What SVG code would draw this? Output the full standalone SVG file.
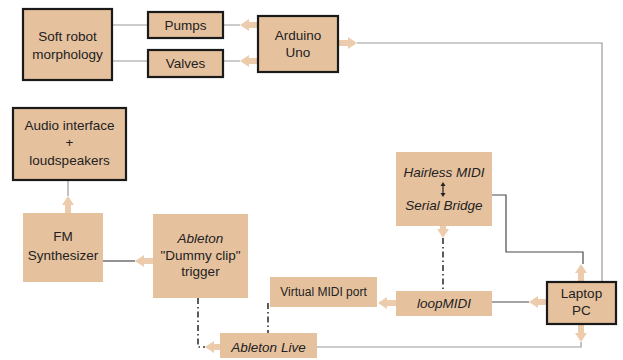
<svg xmlns="http://www.w3.org/2000/svg" xmlns:xlink="http://www.w3.org/1999/xlink" width="623" height="360" viewBox="0 0 623 360">
<style>
.box{fill:#e6c19e}
.bd{stroke:#1a1a1a;stroke-width:2.2}
.t{font-family:"Liberation Sans",Arial,sans-serif;font-size:13.5px;fill:#222;text-anchor:middle}
.i{font-style:italic}
.s{font-size:12px}
.ln{fill:none;stroke:#9a9a9a;stroke-width:1.2}
.dk{fill:none;stroke:#4a4a4a;stroke-width:1.2}
.dd{fill:none;stroke:#333;stroke-width:1.6;stroke-dasharray:6 3 1.5 3}
.fa{fill:#ecccad}
</style>
<defs>
<path id="fat" d="M0,0 L-9,-6 L-9,-3 L-19,-3 L-19,3 L-9,3 L-9,6 Z"/>
</defs>
<rect width="623" height="360" fill="#fff"/>
<g id="connectors">
<path class="ln" d="M112,25 H148 M112,61 H148 M223,25 H240 M223,61 H240"/>
<path class="ln" d="M357,43 H602 V282"/>
<path class="ln" d="M68,180 V196"/>
<path class="dk" d="M103,261 H135"/>
<path class="dk" d="M492,195 H506 V252 H583 V264"/>
<path class="dk" d="M492,302 H529"/>
<path class="ln" d="M317,347 H581 V342"/>
<path class="dd" d="M443,238 V291"/>
<path class="dd" d="M198,298 V347 H205"/>
<path class="dd" d="M268,303 V333"/>
<use class="fa" xlink:href="#fat" transform="translate(240,25) rotate(180)"/>
<use class="fa" xlink:href="#fat" transform="translate(240,61) rotate(180)"/>
<use class="fa" xlink:href="#fat" transform="translate(357,43)"/>
<use class="fa" xlink:href="#fat" transform="translate(68,196) rotate(-90)"/>
<use class="fa" xlink:href="#fat" transform="translate(135,261) rotate(180)"/>
<use class="fa" xlink:href="#fat" transform="translate(443,238) rotate(90)"/>
<use class="fa" xlink:href="#fat" transform="translate(581,264) rotate(-90)"/>
<use class="fa" xlink:href="#fat" transform="translate(581,342) rotate(90)"/>
<use class="fa" xlink:href="#fat" transform="translate(529,302) rotate(180)"/>
<use class="fa" xlink:href="#fat" transform="translate(378,303) rotate(180)"/>
<use class="fa" xlink:href="#fat" transform="translate(205,347) rotate(180)"/>
</g>
<g id="soft-robot">
<rect class="box bd" x="23" y="9" width="89" height="71"/>
<text class="t" x="67.5" y="41">Soft robot</text>
<text class="t" x="67.5" y="59">morphology</text>
</g>
<g id="pumps">
<rect class="box bd" x="148" y="12" width="75" height="26"/>
<text class="t" x="185.5" y="30">Pumps</text>
</g>
<g id="valves">
<rect class="box bd" x="148" y="50" width="75" height="27"/>
<text class="t" x="185.5" y="68">Valves</text>
</g>
<g id="arduino">
<rect class="box bd" x="258" y="16" width="80" height="56"/>
<text class="t" x="298" y="40">Arduino</text>
<text class="t" x="298" y="57">Uno</text>
</g>
<g id="audio">
<rect class="box bd" x="13" y="108" width="113" height="72"/>
<text class="t" x="69.5" y="130">Audio interface</text>
<text class="t" x="69.5" y="147">+</text>
<text class="t" x="69.5" y="165">loudspeakers</text>
</g>
<g id="fm">
<rect class="box" x="23" y="213" width="80" height="69"/>
<text class="t" x="63" y="241">FM</text>
<text class="t" x="63" y="260">Synthesizer</text>
</g>
<g id="dummy">
<rect class="box" x="153" y="214" width="95" height="84"/>
<text class="t i" x="200.5" y="243">Ableton</text>
<text class="t" x="200.5" y="260">"Dummy clip"</text>
<text class="t" x="200.5" y="276">trigger</text>
</g>
<g id="hairless">
<rect class="box" x="396" y="152" width="96" height="74"/>
<text class="t i" x="444" y="177">Hairless MIDI</text>
<path d="M443,185 V194" stroke="#222" stroke-width="1.2"/>
<path d="M443,182 L440.5,186 H445.5 Z M443,197 L440.5,193 H445.5 Z" fill="#222"/>
<text class="t i" x="444" y="210">Serial Bridge</text>
</g>
<g id="loopmidi">
<rect class="box" x="396" y="291" width="96" height="25"/>
<text class="t i" x="444" y="308">loopMIDI</text>
</g>
<g id="virtual-midi">
<rect class="box" x="270" y="277" width="107" height="30"/>
<text class="t s" x="323.5" y="296">Virtual MIDI port</text>
</g>
<g id="ableton-live">
<rect class="box" x="220" y="333" width="97" height="25"/>
<text class="t i" x="268.5" y="352">Ableton Live</text>
</g>
<g id="laptop">
<rect class="box bd" x="547" y="282" width="69" height="42"/>
<text class="t" x="581.5" y="298">Laptop</text>
<text class="t" x="581.5" y="315">PC</text>
</g>
</svg>
